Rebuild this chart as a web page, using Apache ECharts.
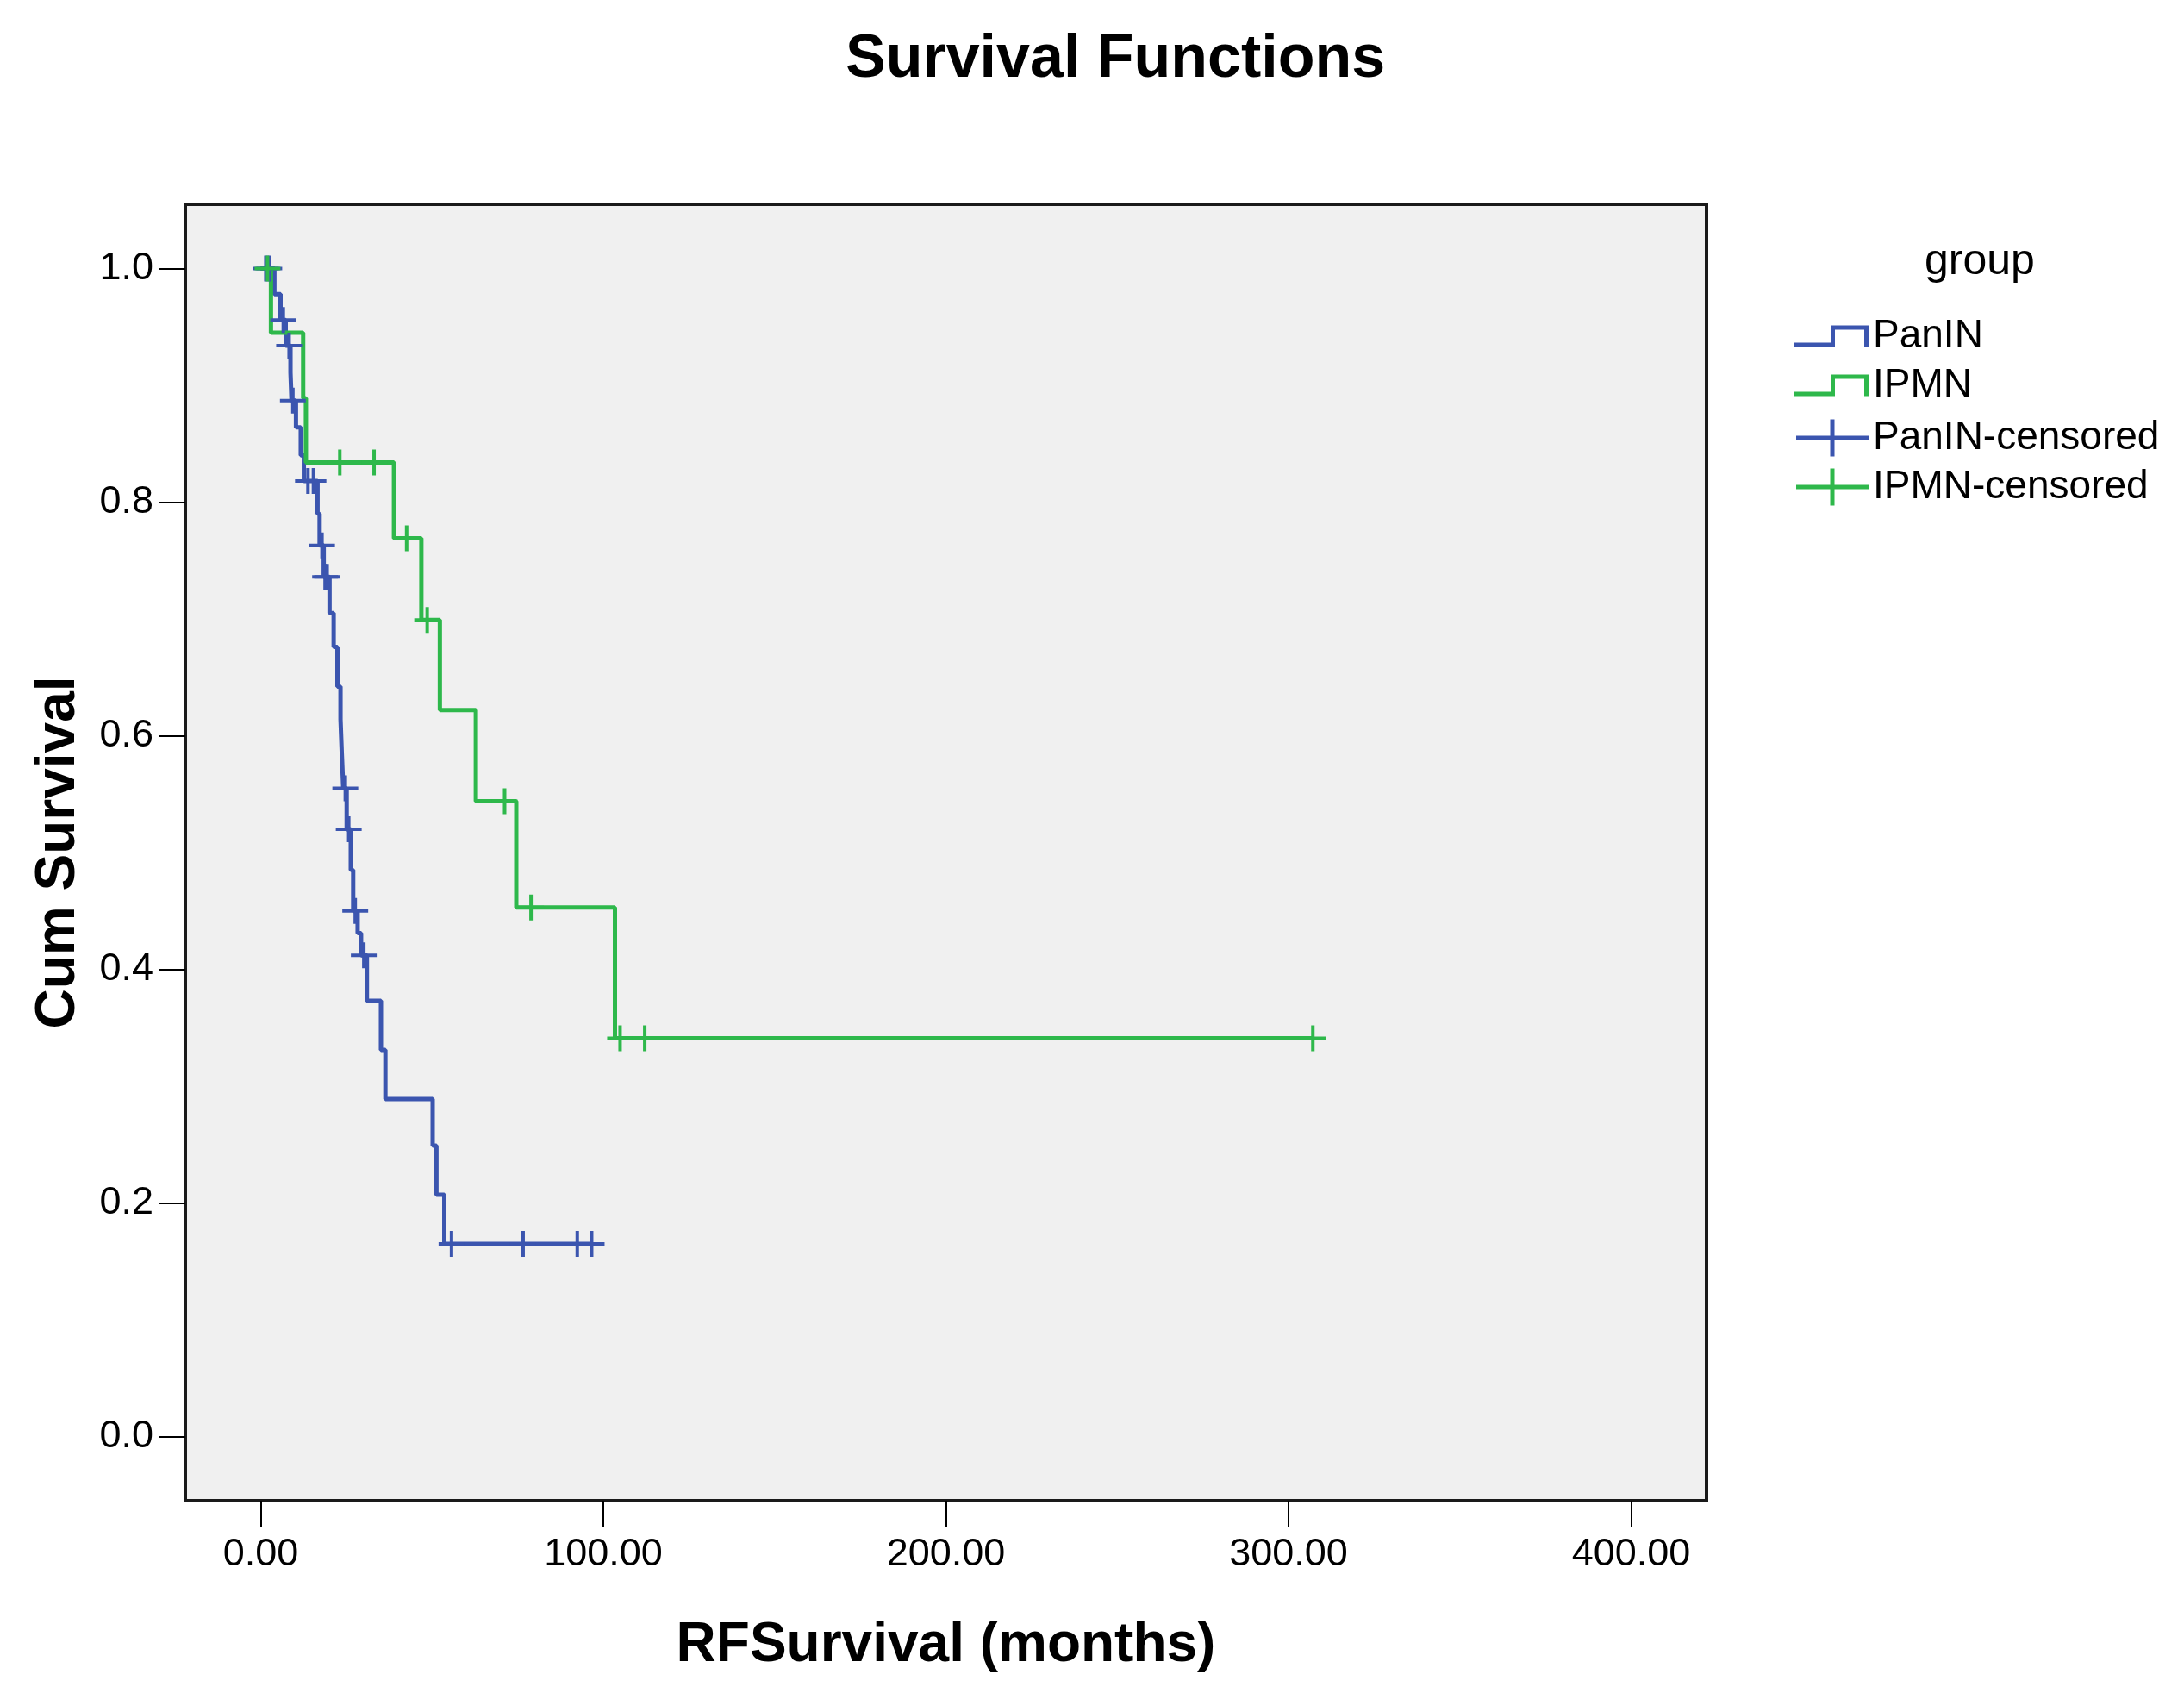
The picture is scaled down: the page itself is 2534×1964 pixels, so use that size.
<!DOCTYPE html>
<html><head><meta charset="utf-8">
<script src="https://cdn.jsdelivr.net/npm/echarts@6/dist/echarts.min.js"></script>
<style>html,body{margin:0;padding:0;background:#fff}#c{width:2534px;height:1964px}</style>
</head><body><div id="c"></div>
<script>
// ---- data ----
const paninEventTimes = [4.0, 5.8, 7.3, 8.7, 9.0, 10.3, 11.7, 12.6, 16.6, 17.2, 18.4, 20.1, 21.3, 22.4, 23.3, 23.7, 24.1, 25.1, 26.3, 27.0, 28.3, 29.3, 31.0, 35.1, 36.4, 50.2, 51.3, 53.6];
const paninEventSurv  = [0.978, 0.956, 0.934, 0.911, 0.887, 0.864, 0.840, 0.818, 0.790, 0.763, 0.736, 0.705, 0.676, 0.642, 0.614, 0.583, 0.555, 0.520, 0.485, 0.450, 0.431, 0.412, 0.373, 0.331, 0.289, 0.249, 0.207, 0.165];
const paninCensorTimes = [1.5, 2.5, 6.6, 8.3, 9.4, 13.8, 15.4, 17.9, 18.8, 19.4, 24.7, 25.7, 27.6, 30.1, 55.7, 76.6, 92.4, 96.6];

const ipmnEventTimes = [3.0, 12.4, 13.2, 38.9, 46.9, 52.3, 62.8, 74.6, 103.4];
const ipmnEventSurv  = [0.945, 0.889, 0.834, 0.769, 0.699, 0.622, 0.544, 0.453, 0.341];
const ipmnCensorTimes = [2.0, 23.1, 33.1, 42.6, 48.6, 71.2, 78.9, 104.9, 112.1, 307.1];

const groupNames = ['PanIN', 'IPMN', 'PanIN-censored', 'IPMN-censored'];
const xTicks = [0, 100, 200, 300, 400];
const yTicks = [0, 0.2, 0.4, 0.6, 0.8, 1.0];

// ---- helpers ----
function survAt(times, surv, t) {
  let s = 1;
  for (let i = 0; i < times.length; i++) { if (times[i] <= t) s = surv[i]; }
  return s;
}
function stepData(times, surv, censor) {
  const d = [[0, 1]];
  times.forEach((t, i) => d.push([t, surv[i]]));
  const last = Math.max(Math.max.apply(null, censor), times[times.length - 1]);
  d.push([last, survAt(times, surv, last)]);
  return d;
}
function censorData(times, surv, censor) {
  return censor.map(t => [t, survAt(times, surv, t)]);
}

const FONT = '"Liberation Sans", Arial, Helvetica, sans-serif';
const BLUE = '#3B55AF';
const GREEN = '#2EB84B';
const plusIcon = 'path://M13,0L17,0L17,13L30,13L30,17L17,17L17,30L13,30L13,17L0,17L0,13L13,13Z';
const stepIcon = 'path://M0,20L43,20L43,0L87,0L87,25L82,25L82,5L48,5L48,25L0,25Z';
const censorIcon = 'path://M0,19L39.5,19L39.5,0L44.5,0L44.5,19L84,19L84,24L44.5,24L44.5,43L39.5,43L39.5,24L0,24Z';

const chart = echarts.init(document.getElementById('c'), null, {renderer: 'canvas'});
const option = {
  animation: false,
  backgroundColor: '#ffffff',
  title: [
    {text: 'Survival Functions', left: 976, top: 30,
     textStyle: {fontFamily: FONT, fontSize: 70, fontWeight: 'bold', color: '#000'}},
    {text: 'group', left: 2228, top: 274,
     textStyle: {fontFamily: FONT, fontSize: 50, fontWeight: 'normal', color: '#000'}}
  ],
  grid: {left: 215, top: 237, width: 1765, height: 1504, show: true,
         backgroundColor: '#F0F0F0', borderColor: '#1a1a1a', borderWidth: 4},
  xAxis: {
    type: 'value', min: -22, max: 422,
    name: 'RFSurvival (months)', nameLocation: 'middle', nameGap: 136,
    nameTextStyle: {fontFamily: FONT, fontSize: 64, fontWeight: 'bold', color: '#000'},
    axisLine: {show: false, onZero: false}, splitLine: {show: false},
    axisTick: {show: true, length: 30, customValues: xTicks, lineStyle: {color: '#000', width: 2}},
    axisLabel: {customValues: xTicks, formatter: v => Number(v).toFixed(2), margin: 40,
                fontFamily: FONT, fontSize: 45, color: '#000'}
  },
  yAxis: {
    type: 'value', min: -0.055, max: 1.055,
    name: 'Cum Survival', nameLocation: 'middle', nameGap: 115, nameRotate: 90,
    nameTextStyle: {fontFamily: FONT, fontSize: 64, fontWeight: 'bold', color: '#000'},
    axisLine: {show: false, onZero: false}, splitLine: {show: false},
    axisTick: {show: true, length: 30, customValues: yTicks, lineStyle: {color: '#000', width: 2}},
    axisLabel: {customValues: yTicks, formatter: v => Number(v).toFixed(1), margin: 37,
                fontFamily: FONT, fontSize: 45, color: '#000'}
  },
  legend: [
    {orient: 'vertical', left: 2081, top: 365, padding: 0, itemGap: 7,
     itemWidth: 87, itemHeight: 25, selectedMode: false,
     data: [{name: groupNames[0], icon: stepIcon}, {name: groupNames[1], icon: stepIcon}],
     textStyle: {fontFamily: FONT, fontSize: 46, color: '#000', lineHeight: 50}},
    {orient: 'vertical', left: 2084, top: 483, padding: 0, itemGap: 7,
     itemWidth: 84, itemHeight: 43, selectedMode: false,
     data: [{name: groupNames[2], icon: censorIcon}, {name: groupNames[3], icon: censorIcon}],
     textStyle: {fontFamily: FONT, fontSize: 46, color: '#000', lineHeight: 50}}
  ],
  series: [
    {name: groupNames[0], type: 'line', step: 'end', symbol: 'none',
     data: stepData(paninEventTimes, paninEventSurv, paninCensorTimes),
     lineStyle: {color: BLUE, width: 5}, itemStyle: {color: BLUE}, z: 2},
    {name: groupNames[1], type: 'line', step: 'end', symbol: 'none',
     data: stepData(ipmnEventTimes, ipmnEventSurv, ipmnCensorTimes),
     lineStyle: {color: GREEN, width: 5}, itemStyle: {color: GREEN}, z: 3},
    {name: groupNames[2], type: 'scatter', symbol: plusIcon, symbolSize: 30,
     data: censorData(paninEventTimes, paninEventSurv, paninCensorTimes),
     itemStyle: {color: BLUE, opacity: 1}, z: 4},
    {name: groupNames[3], type: 'scatter', symbol: plusIcon, symbolSize: 30,
     data: censorData(ipmnEventTimes, ipmnEventSurv, ipmnCensorTimes),
     itemStyle: {color: GREEN, opacity: 1}, z: 5}
  ]
};
chart.setOption(option);
</script>
</body></html>
